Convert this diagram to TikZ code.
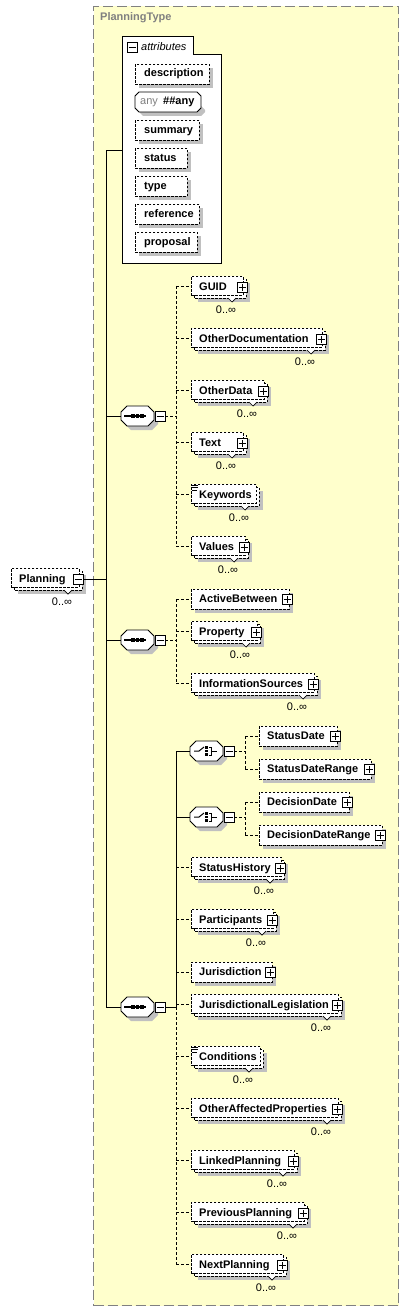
\documentclass[tikz,border=0pt]{standalone}
\usepackage{fontspec}
\setmainfont{Liberation Sans}
\definecolor{ylw}{RGB}{255,255,204}
\definecolor{shd}{RGB}{192,192,192}
\definecolor{bordgray}{RGB}{128,128,128}
\tikzset{
  ebox/.style={draw, fill=white, dash pattern=on 2.5pt off 1.5pt, inner sep=0pt, line width=0.9pt},
  lbl/.style={font=\fontsize{11}{12}\selectfont\bfseries, inner sep=0pt, text height=8pt, text depth=2pt, anchor=west},
  occ/.style={font=\fontsize{11}{12}\selectfont, inner sep=0pt},
  btn/.style={draw, fill=white, minimum size=10pt, inner sep=0pt, line width=0.8pt},
  plusbtn/.style={btn, path picture={\draw[line width=0.9pt] ([xshift=-3.5pt]path picture bounding box.center) -- ([xshift=3.5pt]path picture bounding box.center) ([yshift=-3.5pt]path picture bounding box.center) -- ([yshift=3.5pt]path picture bounding box.center);}},
  minusbtn/.style={btn, path picture={\draw[line width=0.9pt] ([xshift=-3.5pt]path picture bounding box.center) -- ([xshift=3.5pt]path picture bounding box.center);}},
  nobtn/.style={inner sep=0pt, minimum size=0pt},
  conn/.style={line width=1pt},
  dconn/.style={line width=0.9pt, dash pattern=on 3pt off 2pt},
}
% single element with plus button
\newcommand\selem[5]{%
  \fill[shd] (#2+4,#3-6) rectangle (#4+4,#3+14);
  \node[ebox, anchor=north west, minimum width=#4-#2, minimum height=20] (#1) at (#2,#3-10) {};
  \node[lbl] (#1-t) at (#2+8,#3) {#5};
  \node[plusbtn] (#1-b) at (#4-2,#3) {};
}
% multiple element (0..inf)
\newcommand\melem[6]{%
  \fill[shd] (#2+7,#3-4) rectangle (#4+4,#3+15);
  \draw[ebox] (#2+3,#3-8) rectangle (#4,#3+11);
  \draw[fill=white, line width=0.7pt] (#4-18,#3+11) -- (#4-14,#3+15) -- (#4-10,#3+11);
  \node[ebox, anchor=north west, minimum width=#4-#2-3, minimum height=19] (#1) at (#2,#3-11) {};
  \node[lbl] (#1-t) at (#2+8,#3) {#5};
  \node[occ] (#1-o) at (#4-20,#3+23) {0..∞};
  \node[#6] (#1-b) at (#4-4,#3) {};
}
% simple type icon
\newcommand\stico[2]{%
  \draw[line width=0.7pt] (#1+1,#2-10) -- (#1+7,#2-10) (#1+1,#2-7.5) -- (#1+7,#2-7.5) (#1+1,#2-5) -- (#1+6,#2-5);
}
% attribute box
\newcommand\attrbox[5]{%
  \fill[shd] (#2+4,#3-6) rectangle (#4+4,#3+14);
  \node[ebox, anchor=north west, minimum width=#4-#2, minimum height=20] (#1) at (#2,#3-10) {};
  \node[lbl] (#1-t) at (#2+9,#3) {#5};
}
% octagon (sequence / choice) with minus button
\newcommand\octo[3]{%
  \fill[shd] (#2+4,#3) -- (#2+10,#3-6) -- (#2+31,#3-6) -- (#2+37,#3) -- (#2+37,#3+8) -- (#2+31,#3+14) -- (#2+10,#3+14) -- (#2+4,#3+8) -- cycle;
  \draw[fill=white, line width=0.9pt] (#2,#3-4) -- (#2+6,#3-10) -- (#2+27,#3-10) -- (#2+33,#3-4) -- (#2+33,#3+4) -- (#2+27,#3+10) -- (#2+6,#3+10) -- (#2,#3+4) -- cycle;
  \node[inner sep=0pt, minimum width=33, minimum height=20, anchor=west] (#1) at (#2,#3) {};
  \node[minusbtn] (#1-b) at (#2+39,#3) {};
}
\newcommand\seqico[2]{%
  \draw[line width=1.1pt] (#1+3,#2) -- (#1+25,#2);
  \fill (#1+10.2,#2-1.8) rectangle (#1+13.8,#2+1.8);
  \fill (#1+14.7,#2-1.8) rectangle (#1+18.3,#2+1.8);
  \fill (#1+19.2,#2-1.8) rectangle (#1+22.8,#2+1.8);
}
\newcommand\choico[2]{%
  \draw[line width=1pt] (#1+4,#2) -- (#1+9,#2) -- (#1+14,#2-4);
  \fill (#1+15,#2-4.6) rectangle (#1+17.8,#2-1.8);
  \fill (#1+15,#2-1.4) rectangle (#1+17.8,#2+1.4);
  \fill (#1+15,#2+1.8) rectangle (#1+17.8,#2+4.6);
  \draw[line width=1pt] (#1+19,#2-4) -- (#1+21.5,#2-4) -- (#1+21.5,#2+4) -- (#1+19,#2+4) (#1+21.5,#2) -- (#1+27,#2);
}
\begin{document}
\begin{tikzpicture}[x=1pt,y=-1pt]
\useasboundingbox[fill=white] (0,0) rectangle (409,1311);
% complex type frame
\node[draw=bordgray, fill=ylw, dash pattern=on 10pt off 4pt, line width=1pt, minimum width=305, minimum height=1299, anchor=north west, inner sep=0pt] (ptype) at (93,6) {};
\node[lbl, text=bordgray] (ptype-l) at (100,18) {PlanningType};

% root element
\melem{plan}{11}{579}{82}{Planning}{minusbtn}

% attributes group
\draw[line width=1pt, fill=white] (122,37) -- (193,37) -- (193,55) -- (221,55) -- (221,263) -- (122,263) -- cycle;
\node[inner sep=0pt, minimum width=99, minimum height=226, anchor=north west] (attr) at (122,37) {};
\node[minusbtn] (attr-b) at (132,47) {};
\node[anchor=west, inner sep=0pt, font=\fontsize{11}{12}\selectfont\itshape] (attr-l) at (141,47) {attributes};
\attrbox{description}{135}{74}{209}{description}
% any attribute
\fill[shd] (139,110) -- (143,106) -- (201,106) -- (205,110) -- (205,112) -- (201,116) -- (143,116) -- (139,112) -- cycle;
\draw[fill=white, line width=0.8pt] (135,96) -- (139,92) -- (197,92) -- (201,96) -- (201,108) -- (197,112) -- (139,112) -- (135,108) -- cycle;
\node[inner sep=0pt, minimum width=66, minimum height=20, anchor=west] (anyattr) at (135,102) {};
\node[anchor=west, inner sep=0pt, text height=8pt, text depth=2pt, font=\fontsize{11}{12}\selectfont, text=bordgray] (any-t) at (140,102) {any};
\node[lbl] (any-v) at (163,102) {\#\#any};
\attrbox{summary}{135}{130}{199}{summary}
\attrbox{status}{135}{158}{187}{status}
\attrbox{type}{135}{186}{187}{type}
\attrbox{reference}{135}{214}{199}{reference}
\attrbox{proposal}{135}{242}{197}{proposal}

% spine
\coordinate (sp) at (106,416);
\draw[conn] (plan-b.east) -- (plan-b.east -| sp);
\draw[conn] (attr.west -| sp) -- (attr.west);

% sequence 1
\octo{seqa}{121}{416}
\seqico{121}{416}
\coordinate (va) at (176,416);
\melem{guid}{191}{287}{246}{GUID}{plusbtn}
\melem{otherdoc}{191}{339}{325}{OtherDocumentation}{plusbtn}
\melem{otherdata}{191}{391}{267}{OtherData}{plusbtn}
\melem{text}{191}{443}{246}{Text}{plusbtn}
\melem{keywords}{191}{495}{259}{Keywords}{nobtn}
\stico{191}{495}
\melem{values}{191}{547}{248}{Values}{plusbtn}
\draw[conn] (seqa.west -| sp) -- (seqa.west);
\draw[dconn] (seqa-b.east) -- (seqa-b.east -| va);
\draw[dconn] (guid.west -| va) -- (values.west -| va);
\foreach \n in {guid,otherdoc,otherdata,text,keywords,values}
  \draw[dconn] (\n.west -| va) -- (\n.west);

% sequence 2
\octo{seqb}{121}{640}
\seqico{121}{640}
\coordinate (vb) at (176,640);
\selem{activebetween}{191}{599}{289}{ActiveBetween}
\melem{property}{191}{632}{260}{Property}{plusbtn}
\melem{infosources}{191}{684}{317}{InformationSources}{plusbtn}
\draw[conn] (seqb.west -| sp) -- (seqb.west);
\draw[dconn] (seqb-b.east) -- (seqb-b.east -| vb);
\draw[dconn] (activebetween.west -| vb) -- (infosources.west -| vb);
\foreach \n in {activebetween,property,infosources}
  \draw[dconn] (\n.west -| vb) -- (\n.west);

% sequence 3
\octo{seqc}{121}{1007}
\seqico{121}{1007}
\coordinate (vc) at (176,1007);
% choice 1
\octo{choa}{190}{751}
\choico{190}{751}
\coordinate (vca) at (245,751);
\selem{statusdate}{259}{736}{337}{StatusDate}
\selem{statusdaterange}{259}{769}{371}{StatusDateRange}
\draw[dconn] (choa-b.east) -- (choa-b.east -| vca);
\draw[dconn] (statusdate.west -| vca) -- (statusdaterange.west -| vca);
\foreach \n in {statusdate,statusdaterange}
  \draw[dconn] (\n.west -| vca) -- (\n.west);
% choice 2
\octo{chob}{190}{817}
\choico{190}{817}
\coordinate (vcb) at (245,817);
\selem{decisiondate}{259}{802}{349}{DecisionDate}
\selem{decisiondaterange}{259}{835}{382}{DecisionDateRange}
\draw[dconn] (chob-b.east) -- (chob-b.east -| vcb);
\draw[dconn] (decisiondate.west -| vcb) -- (decisiondaterange.west -| vcb);
\foreach \n in {decisiondate,decisiondaterange}
  \draw[dconn] (\n.west -| vcb) -- (\n.west);

\melem{statushistory}{191}{868}{284}{StatusHistory}{plusbtn}
\melem{participants}{191}{920}{276}{Participants}{plusbtn}
\selem{jurisdiction}{191}{972}{272}{Jurisdiction}
\melem{jurlegis}{191}{1005}{341}{JurisdictionalLegislation}{plusbtn}
\melem{conditions}{191}{1057}{263}{Conditions}{nobtn}
\stico{191}{1057}
\melem{otheraffected}{191}{1109}{341}{OtherAffectedProperties}{plusbtn}
\melem{linkedplanning}{191}{1161}{297}{LinkedPlanning}{plusbtn}
\melem{previousplanning}{191}{1213}{307}{PreviousPlanning}{plusbtn}
\melem{nextplanning}{191}{1265}{286}{NextPlanning}{plusbtn}

\draw[conn] (seqc.west -| sp) -- (seqc.west);
\draw[conn] (seqc-b.east) -- (seqc-b.east -| vc);
\draw[conn] (choa.west -| vc) -- (seqc-b.east -| vc);
\draw[dconn] (seqc-b.east -| vc) -- (nextplanning.west -| vc);
\draw[conn] (choa.west -| vc) -- (choa.west);
\draw[conn] (chob.west -| vc) -- (chob.west);
\foreach \n in {statushistory,participants,jurisdiction,jurlegis,conditions,otheraffected,linkedplanning,previousplanning,nextplanning}
  \draw[dconn] (\n.west -| vc) -- (\n.west);

% spine vertical
\draw[conn] (attr.west -| sp) -- (seqc.west -| sp);
\end{tikzpicture}
\end{document}
